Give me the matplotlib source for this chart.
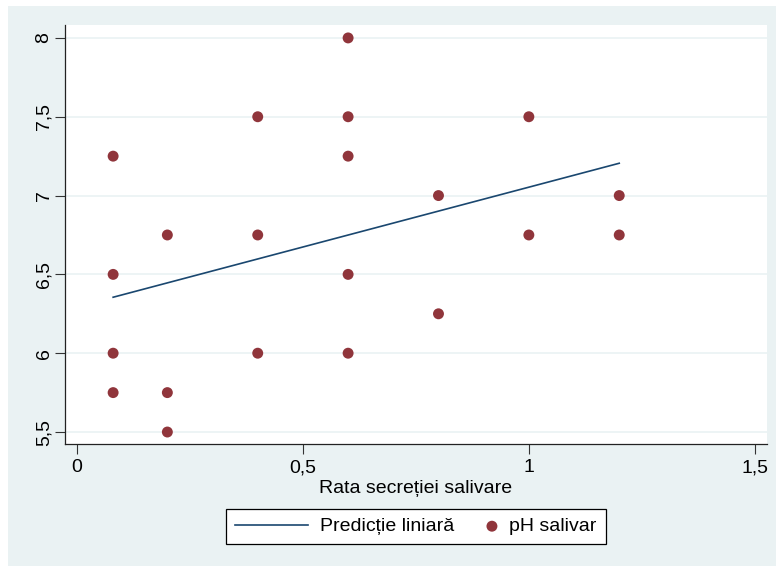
import matplotlib
matplotlib.use("Agg")
import matplotlib.pyplot as plt
from matplotlib.patches import Rectangle
from matplotlib.ticker import FuncFormatter
from matplotlib.legend_handler import HandlerPathCollection

plt.rcParams['font.family'] = ['Liberation Sans', 'DejaVu Sans']

# rata secretiei salivare (ml/min) si pH salivar
rata = [0.08, 0.08, 0.08, 0.08,
        0.2, 0.2, 0.2,
        0.4, 0.4, 0.4,
        0.6, 0.6, 0.6, 0.6, 0.6,
        0.8, 0.8,
        1.0, 1.0,
        1.2, 1.2]
ph = [7.25, 6.5, 6.0, 5.75,
      6.75, 5.75, 5.5,
      7.5, 6.75, 6.0,
      8.0, 7.5, 7.25, 6.5, 6.0,
      7.0, 6.25,
      7.5, 6.75,
      7.0, 6.75]

# valori prezise de regresie (capetele dreptei)
pred_x = [0.08, 1.2]
pred_y = [6.355, 7.205]

x_ticks = [0, 0.5, 1, 1.5]
y_ticks = [5.5, 6, 6.5, 7, 7.5, 8]

bg = '#EAF2F3'
navy = '#1A476F'
maroon = '#90353B'
fs = 14


class RightDot(HandlerPathCollection):
    # punctul din legenda lipit de text, nu centrat in caseta
    def get_xdata(self, legend, xdescent, ydescent, width, height, fontsize):
        x = [-xdescent + width - 0.3 * fontsize]
        return x, x


fig = plt.figure(figsize=(7.76, 5.66), dpi=100)
fig.patch.set_facecolor('white')
fig.patches.append(Rectangle((8 / 776, 0), 1 - 8 / 776, 1 - 6 / 566,
                             transform=fig.transFigure, facecolor=bg,
                             edgecolor='none', zorder=-10))

ax = fig.add_axes([65 / 776, 1 - 444 / 566, (767 - 65) / 776, (444 - 25) / 566])
ax.set_facecolor('white')

line, = ax.plot(pred_x, pred_y, color=navy, lw=1.2, label='Predicție liniară', zorder=3)
pts = ax.scatter(rata, ph, s=62, color=maroon, edgecolors='none',
                 label='pH salivar', zorder=4)

ax.set_xlim(-0.0265, 1.527)
ax.set_ylim(5.424, 8.082)
ax.set_xticks(x_ticks)
ax.set_yticks(y_ticks)
comma = FuncFormatter(lambda v, p: ('%g' % v).replace('.', ','))
ax.xaxis.set_major_formatter(comma)
ax.yaxis.set_major_formatter(comma)
ax.tick_params(axis='both', labelsize=fs, length=7, width=0.8, color='#333333')
ax.tick_params(axis='x', pad=4)
ax.tick_params(axis='y', pad=2)
for lab in ax.get_yticklabels():
    lab.set_rotation(90)
    lab.set_va('center')

ax.grid(axis='y', color=bg, lw=1.2)
ax.set_axisbelow(True)
for side in ['top', 'right']:
    ax.spines[side].set_visible(False)
for side in ['left', 'bottom']:
    ax.spines[side].set_linewidth(0.9)
    ax.spines[side].set_color('#222222')

ax.set_xlabel('Rata secreției salivare', fontsize=fs, labelpad=3)

leg = fig.legend([line, pts], ['Predicție liniară', 'pH salivar'],
                 loc='center', bbox_to_anchor=(416 / 776, 1 - 526.5 / 566),
                 ncol=2, fontsize=fs, frameon=True, fancybox=False,
                 edgecolor='black', framealpha=1, handlelength=3.75,
                 columnspacing=-1.5, borderpad=0.45, handletextpad=0.6,
                 handler_map={pts: RightDot(numpoints=1)})
leg.get_frame().set_linewidth(0.9)

fig.savefig('out.png', dpi=100)
